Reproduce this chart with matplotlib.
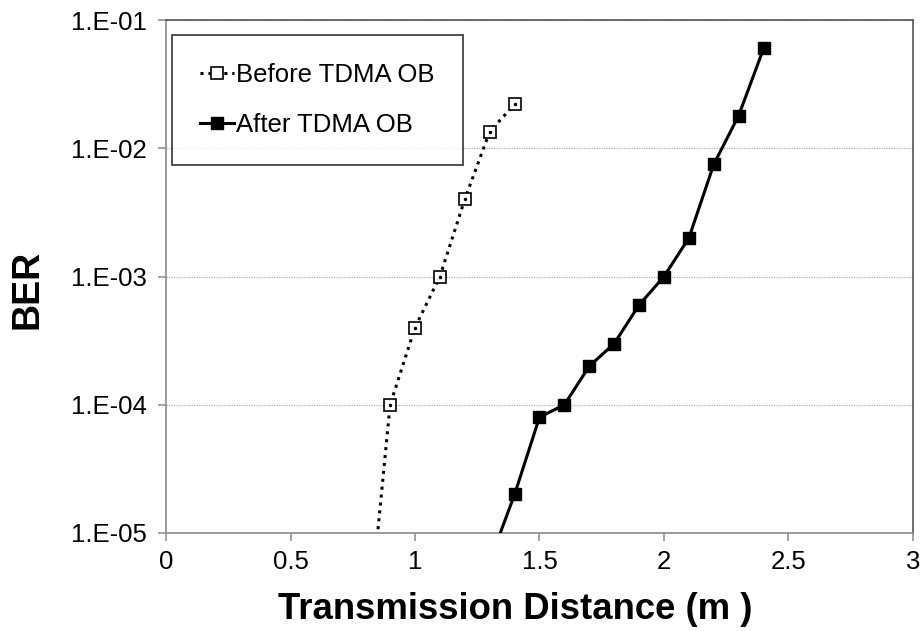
import matplotlib.pyplot as plt
from matplotlib.ticker import FixedLocator, FixedFormatter

plt.rcParams['font.family'] = ['Liberation Sans', 'DejaVu Sans']

# BER vs transmission distance
dist_before = [0.8, 0.9, 1.0, 1.1, 1.2, 1.3, 1.4]
ber_before = [1e-6, 1e-4, 4e-4, 1e-3, 4e-3, 1.35e-2, 2.2e-2]

dist_after = [1.3, 1.4, 1.5, 1.6, 1.7, 1.8, 1.9, 2.0, 2.1, 2.2, 2.3, 2.4]
ber_after = [6e-6, 2e-5, 8e-5, 1e-4, 2e-4, 3e-4, 6e-4, 1e-3, 2e-3, 7.5e-3, 1.8e-2, 6e-2]

y_ticks = [1e-5, 1e-4, 1e-3, 1e-2, 1e-1]
y_tick_labels = ['1.E-05', '1.E-04', '1.E-03', '1.E-02', '1.E-01']
x_ticks = [0, 0.5, 1, 1.5, 2, 2.5, 3]
x_tick_labels = ['0', '0.5', '1', '1.5', '2', '2.5', '3']

fig = plt.figure(figsize=(9.24, 6.31), dpi=100)
ax = fig.add_axes([166 / 924, 1 - 533 / 631, (913 - 166) / 924, (533 - 20) / 631])

ax.plot(dist_before, ber_before, linestyle=(0, (1, 1.6)), color='black', linewidth=2.2,
        marker='s', markersize=8, markerfacecolor='white', markeredgecolor='black',
        markeredgewidth=1.2, label='Before TDMA OB', zorder=3)
ax.plot(dist_before[1:], ber_before[1:], linestyle='none', marker='.', color='black',
        markersize=3, zorder=4)
ax.plot(dist_after, ber_after, linestyle='-', color='black', linewidth=2.2,
        marker='s', markersize=8, markerfacecolor='black', label='After TDMA OB', zorder=3)

ax.set_yscale('log')
ax.set_xlim(0, 3)
ax.set_ylim(1e-5, 1e-1)
ax.yaxis.set_major_locator(FixedLocator(y_ticks))
ax.yaxis.set_major_formatter(FixedFormatter(y_tick_labels))
ax.yaxis.set_minor_locator(FixedLocator([]))
ax.xaxis.set_major_locator(FixedLocator(x_ticks))
ax.xaxis.set_major_formatter(FixedFormatter(x_tick_labels))

ax.grid(axis='y', color='#b0b0b0', linestyle=(0, (1, 1)), linewidth=0.9)
ax.set_axisbelow(True)

for side in ['left', 'bottom']:
    ax.spines[side].set_color('#8a8a8a')
    ax.spines[side].set_linewidth(1.2)
for side in ['top', 'right']:
    ax.spines[side].set_color('#555555')
    ax.spines[side].set_linewidth(1.2)

ax.tick_params(axis='both', direction='out', length=6, width=1.1, color='#8a8a8a',
               labelsize=18.5)
ax.tick_params(axis='y', pad=8)
ax.tick_params(axis='x', pad=6)

ax.set_xlabel('Transmission Distance (m )', fontsize=26.3, fontweight='bold')
ax.set_ylabel('BER', fontsize=27, fontweight='bold')
ax.xaxis.set_label_coords(0.467, -0.115)
ax.yaxis.set_label_coords(-0.161, 0.474)

leg = ax.legend(loc='upper left', bbox_to_anchor=(6 / 747, 1 - 15 / 513), fontsize=18.5,
                frameon=True, fancybox=False, edgecolor='black', handlelength=1.3,
                handletextpad=0.1, labelspacing=1.0, borderpad=1.1, borderaxespad=0)
leg.get_frame().set_linewidth(1.2)

fig.savefig('out.png', dpi=100)
